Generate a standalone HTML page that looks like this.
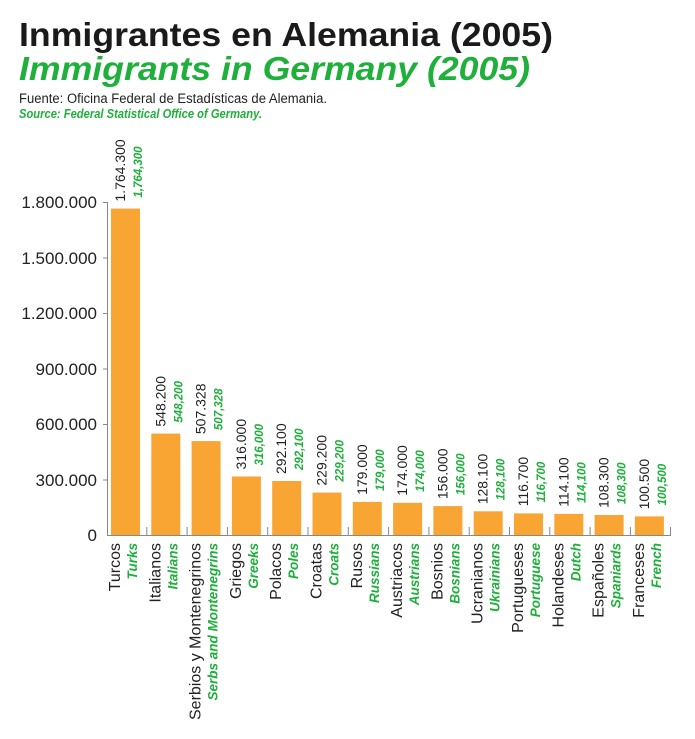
<!DOCTYPE html>
<html><head><meta charset="utf-8"><style>
html,body{margin:0;padding:0;background:#fff;}
svg{display:block;font-family:"Liberation Sans",sans-serif;}
.g{fill:#1fb03c;font-weight:bold;font-style:italic;}
</style></head><body>
<svg width="695" height="739" viewBox="0 0 695 739">
<text x="19" y="46" font-size="33" font-weight="bold" fill="#1a1a1a" textLength="534" lengthAdjust="spacingAndGlyphs">Inmigrantes en Alemania (2005)</text>
<text x="19" y="80" font-size="33" class="g" textLength="511" lengthAdjust="spacingAndGlyphs">Immigrants in Germany (2005)</text>
<text x="19" y="103" font-size="13.5" fill="#222" textLength="308" lengthAdjust="spacingAndGlyphs">Fuente: Oficina Federal de Estadísticas de Alemania.</text>
<text x="19" y="118" font-size="13" class="g" textLength="243" lengthAdjust="spacingAndGlyphs">Source: Federal Statistical Office of Germany.</text>
<g font-size="17" fill="#222" text-anchor="end">
<text x="97" y="208">1.800.000</text>
<text x="97" y="264">1.500.000</text>
<text x="97" y="319">1.200.000</text>
<text x="97" y="375">900.000</text>
<text x="97" y="430">600.000</text>
<text x="97" y="486">300.000</text>
<text x="97" y="541">0</text>
</g>
<g stroke="#888" stroke-width="1" fill="none">
<path d="M107.5 202 V535.5 H670.5 V527"/>
<path d="M103 202.5H107M103 258H107M103 313.5H107M103 369H107M103 424.5H107M103 480H107"/>
<path id="ticks" d=""/>
</g>
<g id="bars"></g>
</svg>
<script>
var d=[["Turcos","Turks",1764300,"1.764.300","1,764,300"],["Italianos","Italians",548200,"548.200","548,200"],["Serbios y Montenegrinos","Serbs and Montenegrins",507328,"507.328","507,328"],["Griegos","Greeks",316000,"316.000","316,000"],["Polacos","Poles",292100,"292.100","292,100"],["Croatas","Croats",229200,"229.200","229,200"],["Rusos","Russians",179000,"179.000","179,000"],["Austriacos","Austrians",174000,"174.000","174,000"],["Bosnios","Bosnians",156000,"156.000","156,000"],["Ucranianos","Ukrainians",128100,"128.100","128,100"],["Portugueses","Portuguese",116700,"116.700","116,700"],["Holandeses","Dutch",114100,"114.100","114,100"],["Españoles","Spaniards",108300,"108.300","108,300"],["Franceses","French",100500,"100.500","100,500"]];
var s="",t="";
d.forEach(function(r,i){
var x=111+i*40.3,top=535-r[2]/1800000*333;
s+='<rect x="'+x.toFixed(1)+'" y="'+top.toFixed(1)+'" width="29" height="'+(535-top).toFixed(1)+'" fill="#f9a534"/>';
if(i>0)t+='M'+(x-4.5).toFixed(1)+' 535V527';
var bx=x+9,gx=x+26;
s+='<text transform="translate('+bx.toFixed(1)+',543) rotate(-90)" text-anchor="end" font-size="16" fill="#222">'+r[0]+'</text>';
s+='<text transform="translate('+gx.toFixed(1)+',543) rotate(-90)" text-anchor="end" font-size="13.5" class="g">'+r[1]+'</text>';
s+='<text transform="translate('+(x+14).toFixed(1)+','+(top-7).toFixed(1)+') rotate(-90)" font-size="14" fill="#222">'+r[3]+'</text>';
s+='<text transform="translate('+(x+31).toFixed(1)+','+(top-11).toFixed(1)+') rotate(-90)" font-size="11.5" class="g">'+r[4]+'</text>';
});
document.getElementById('bars').innerHTML=s;
document.getElementById('ticks').setAttribute('d',t);
</script>
</body></html>
